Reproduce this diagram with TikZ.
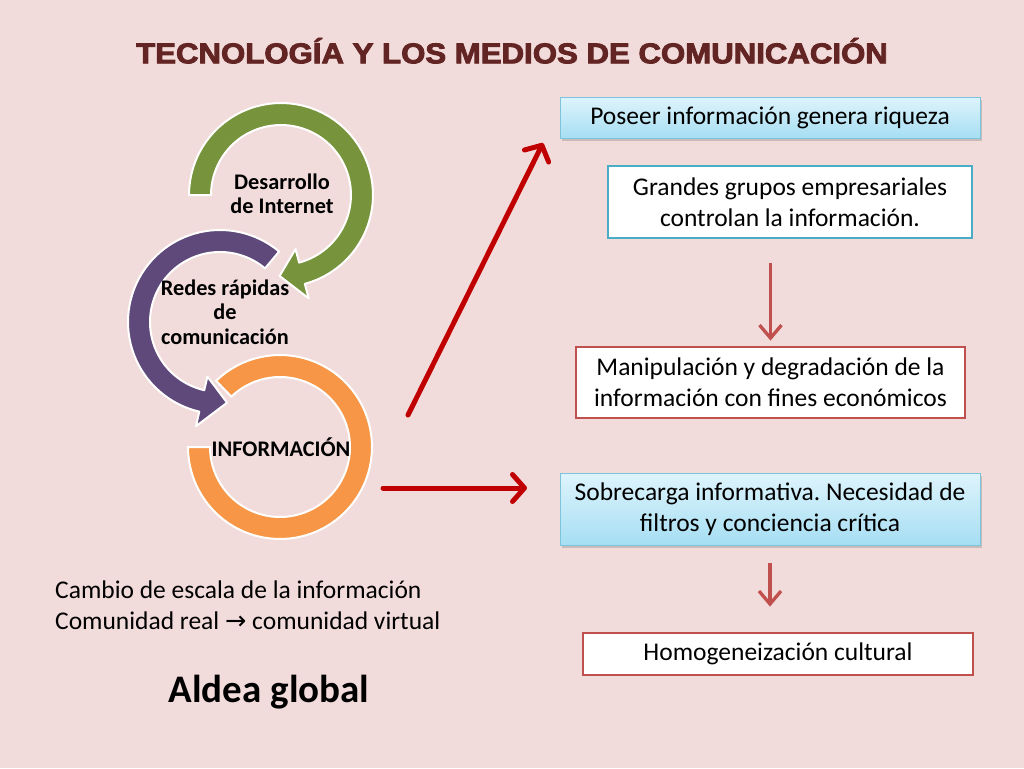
\documentclass[tikz,border=0pt]{standalone}
\usepackage{fontspec}
\setmainfont{Carlito}
\newfontfamily\titlefont[BoldFeatures={FakeBold=3}]{Liberation Sans}
\newfontfamily\arrowfont{DejaVu Sans}
\usetikzlibrary{arrows.meta,shadows,positioning}
\definecolor{bg}{RGB}{242,220,219}
\definecolor{titlered}{RGB}{99,37,35}
\definecolor{ringgreen}{RGB}{119,147,60}
\definecolor{ringpurple}{RGB}{95,73,122}
\definecolor{ringorange}{RGB}{247,150,70}
\definecolor{cyantop}{RGB}{222,244,252}
\definecolor{cyanbot}{RGB}{166,222,243}
\definecolor{cyanline}{RGB}{124,195,220}
\definecolor{tealline}{RGB}{75,172,198}
\definecolor{brick}{RGB}{192,80,77}
\definecolor{darkred}{RGB}{192,0,0}
% ring arrow: colour, centre x, centre y, from, to, tip
\newcommand{\ringarrow}[6]{%
\filldraw[fill=#1,draw=white,line width=2pt,line join=round]
 plot[domain=#4:#5,samples=60]({#2+92*cos(\x)},{#3+92*sin(\x)})
 --({#2+107*cos(#5)},{#3+107*sin(#5)})
 --({#2+81*cos(#6)},{#3+81*sin(#6)})
 --({#2+56*cos(#5)},{#3+56*sin(#5)})
 --plot[domain=#5:#4,samples=60]({#2+70*cos(\x)},{#3+70*sin(\x)})--cycle;}
\frenchspacing
\begin{document}
\begin{tikzpicture}[x=1pt,y=-1pt,
 every node/.style={inner sep=0pt},
 ringlabel/.style={font=\bfseries\fontsize{22.3}{24.5}\selectfont,align=center},
 cyanbox/.style={draw=cyanline,line width=1pt,top color=cyantop,bottom color=cyanbot,
  drop shadow={shadow xshift=2pt,shadow yshift=-2.5pt,opacity=.35},
  font=\fontsize{25.5}{31}\selectfont,align=center},
 tealbox/.style={draw=tealline,line width=2.5pt,fill=white,font=\fontsize{25.5}{31}\selectfont,align=center},
 brickbox/.style={draw=brick,line width=2.8pt,fill=white,font=\fontsize{25.5}{31}\selectfont,align=center},
 bigarrow/.style={draw=darkred,line width=5pt,line cap=round,
  -{Straight Barb[length=12pt,width=27pt,line cap=round,line join=round]}},
 smallarrow/.style={draw=brick,line width=3.3pt,
  -{Straight Barb[length=13pt,width=22pt,line join=miter]}}]
\fill[bg](0,0)rectangle(1024,768);
\useasboundingbox(0,0)rectangle(1024,768);
\node[anchor=base,font=\titlefont\bfseries\fontsize{28.6}{32}\selectfont,text=titlered](title) at (512,63.3)
 {\scalebox{1.09}[1]{TECNOLOGÍA Y LOS MEDIOS DE COMUNICACIÓN}};
% cycle of ring arrows
\filldraw[fill=ringorange,draw=white,line width=2pt]
 plot[domain=226:540,samples=80]({280+92*cos(\x)},{447+92*sin(\x)})
 --plot[domain=540:226,samples=80]({280+70*cos(\x)},{447+70*sin(\x)})--cycle;
\ringarrow{ringpurple}{220}{322}{310}{103}{85}
\ringarrow{ringgreen}{281}{195}{180}{435}{451}
\node[ringlabel](internet) at (282,194) {Desarrollo\\de Internet};
\node[ringlabel](redes) at (225,312) {Redes rápidas\\de\\comunicación};
\node[ringlabel](info) at (281,447) {INFORMACIÓN};
% boxes on the right
\node[cyanbox,minimum width=420pt,minimum height=41pt](riqueza) at (770,117.5)
 {Poseer información genera riqueza};
\node[tealbox,minimum width=364pt,minimum height=72pt](grupos) at (790,202)
 {Grandes grupos empresariales\\controlan la información.};
\node[brickbox,minimum width=389pt,minimum height=71pt](manip) at (770.5,382.5)
 {Manipulación y degradación de la\\información con fines económicos};
\node[cyanbox,minimum width=420pt,minimum height=72pt](sobre) at (770,509)
 {Sobrecarga informativa. Necesidad de\\filtros y conciencia crítica};
\node[brickbox,minimum width=390pt,minimum height=42pt](homog) at (778,654)
 {Homogeneización cultural};
\draw[smallarrow,shorten <=24pt,shorten >=5pt](grupos.south-|manip.north)--(manip.north);
\draw[smallarrow,shorten <=17pt,shorten >=25pt](sobre.south)--(sobre.south|-homog.north);
% red arrows
\coordinate(diagstart) at (408,415);
\coordinate(diagend) at (543,143);
\coordinate(horstart) at (383,488);
\coordinate(horend) at (527,488);
\draw[bigarrow](diagstart)--(diagend);
\draw[bigarrow](horstart)--(horend);
% text at the bottom
\node[anchor=west,align=left,font=\fontsize{25.5}{31}\selectfont](cambio) at (55,605)
 {Cambio de escala de la información\\Comunidad real {\arrowfont →} comunidad virtual};
\node[font=\bfseries\fontsize{39}{44}\selectfont](aldea) at (269,692) {Aldea global};
\end{tikzpicture}
\end{document}
